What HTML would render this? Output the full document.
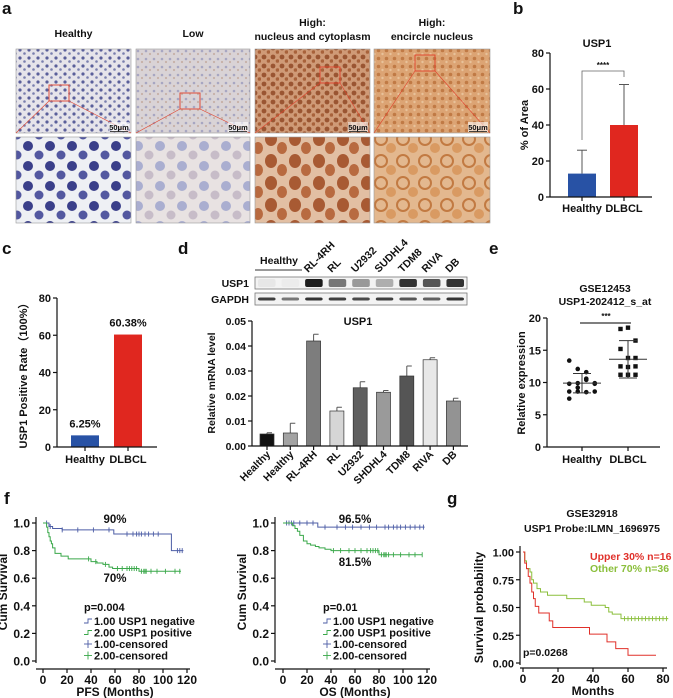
<!DOCTYPE html>
<html><head><meta charset="utf-8">
<style>
html,body{margin:0;padding:0;background:#fff;}
svg{display:block;font-family:"Liberation Sans",sans-serif;}
text{font-weight:bold;fill:#111;}
</style></head>
<body>
<svg id="fig" width="673" height="698" viewBox="0 0 673 698" xmlns="http://www.w3.org/2000/svg">
<defs>
<pattern id="pH1" width="9" height="8" patternUnits="userSpaceOnUse"><rect width="9" height="8" fill="#e6e4ea"/><circle cx="2" cy="2" r="1.6" fill="#5a5f9a"/><circle cx="6.5" cy="5.5" r="1.3" fill="#7a7fae"/></pattern>
<pattern id="pL1" width="8" height="8" patternUnits="userSpaceOnUse"><rect width="8" height="8" fill="#d9d3d6"/><circle cx="2" cy="3" r="1.3" fill="#a7a6c2"/><circle cx="6" cy="6" r="1.1" fill="#c6b1a8"/></pattern>
<pattern id="pN1" width="9" height="9" patternUnits="userSpaceOnUse"><rect width="9" height="9" fill="#cf9a77"/><circle cx="3" cy="3" r="2.4" fill="#9a5532"/><circle cx="7.5" cy="7" r="1.8" fill="#a8623b"/></pattern>
<pattern id="pE1" width="8" height="8" patternUnits="userSpaceOnUse"><rect width="8" height="8" fill="#dca474"/><circle cx="2.5" cy="2.5" r="1.8" fill="#c07a45"/><circle cx="6.5" cy="6" r="1.2" fill="#e8c29a"/></pattern>
<pattern id="pH2" width="22" height="20" patternUnits="userSpaceOnUse"><rect width="22" height="20" fill="#eef0f4"/><circle cx="6" cy="6" r="5" fill="#3a3f8a"/><circle cx="17" cy="15" r="4.5" fill="#5358a0"/></pattern>
<pattern id="pL2" width="22" height="20" patternUnits="userSpaceOnUse"><rect width="22" height="20" fill="#e8e2e2"/><circle cx="6" cy="6" r="5" fill="#aaaed0"/><circle cx="17" cy="15" r="4.5" fill="#c7bcc8"/></pattern>
<pattern id="pN2" width="24" height="22" patternUnits="userSpaceOnUse"><rect width="24" height="22" fill="#e2bfa3"/><ellipse cx="7" cy="7" rx="6" ry="7" fill="#a85a33"/><ellipse cx="18" cy="16" rx="5" ry="6" fill="#b86a40"/></pattern>
<pattern id="pE2" width="22" height="22" patternUnits="userSpaceOnUse"><rect width="22" height="22" fill="#e3b88f"/><circle cx="7" cy="7" r="6" fill="none" stroke="#c27a42" stroke-width="2"/><circle cx="17" cy="16" r="5" fill="#d99a62"/></pattern>
</defs>
<g id="root"></g>
</svg>
<script>
// ---------- data ----------
const aTitles1=['Healthy','Low','High:','High:'];
const aTitles2=['','','nucleus and cytoplasm','encircle nucleus'];
const bCats=['Healthy','DLBCL'];
const bMeans=[13,40];
const bErrTop=[26,62.5];
const bTicks=[0,20,40,60,80];
const cCats=['Healthy','DLBCL'];
const cVals=[6.25,60.38];
const cLabels=['6.25%','60.38%'];
const cTicks=[0,20,40,60,80];
const dCats=['Healthy','Healthy','RL-4RH','RL','U2932','SHDHL4','TDM8','RIVA','DB'];
const dVals=[0.0048,0.0052,0.042,0.014,0.0233,0.0215,0.028,0.0345,0.018];
const dErrTop=[0.0053,0.0091,0.0447,0.0155,0.0257,0.0222,0.032,0.0353,0.0191];
const dTicks=[0,0.01,0.02,0.03,0.04,0.05];
const dTickLabels=['0.00','0.01','0.02','0.03','0.04','0.05'];
const blotLanes=['','','RL-4RH','RL','U2932','SUDHL4','TDM8','RIVA','DB'];
const blotUSP1=[0.05,0.03,0.95,0.55,0.4,0.3,0.85,0.7,0.85];
const blotGAPDH=[0.8,0.55,0.85,0.8,0.75,0.8,0.7,0.65,0.85];
const eCats=['Healthy','DLBCL'];
const eHealthy=[13.4,12.1,11.6,9.9,9.8,9.9,10.4,9.8,8.6,8.6,8.5,8.6,7.5,9.2,10.6];
const eDLBCL=[18.3,18.5,16.5,15.2,13.8,13.8,12.5,12.4,12.5,11.2,11.2,11.2];
const eMean=[9.9,13.6];
const eSD=[1.5,2.9];
const eTicks=[0,5,10,15,20];
const fTicksX=[0,20,40,60,80,100,120];
const fTicksY=[0,0.2,0.4,0.6,0.8,1.0];
const pfsNegT=[0,5,8,16,59,107,117];
const pfsNegS=[1,0.975,0.96,0.95,0.92,0.80,0.80];
const pfsNegCens=[3,6,16,29,42,55,70,75,78,80,82,85,88,92,96,112,114,116];
const pfsPosT=[0,3,4,5,6,7,8,10,15,21,40,45,50,55,58,80,115];
const pfsPosS=[1,0.97,0.93,0.90,0.87,0.85,0.82,0.78,0.76,0.74,0.72,0.71,0.70,0.68,0.67,0.65,0.65];
const pfsPosCens=[38,44,52,62,66,70,72,74,76,78,82,84,85,86,90,95,102,110,114];
const osNegT=[0,29,118];
const osNegS=[1,0.97,0.97];
const osNegCens=[3,5,7,9,14,20,25,35,45,52,58,65,72,78,85,88,92,95,98,102,106,110,114,117];
const osPosT=[0,8,10,12,14,17,20,23,27,30,35,40,80,116];
const osPosS=[1,0.98,0.96,0.94,0.91,0.87,0.85,0.84,0.83,0.82,0.81,0.80,0.77,0.77];
const osPosCens=[42,48,55,60,65,70,73,75,77,79,82,84,85,86,88,92,98,105,110,116];
const gTicksX=[0,20,40,60,80];
const gTicksY=[0,0.25,0.5,0.75,1.0];
const gTickLabelsY=['0.00','0.25','0.50','0.75','1.00'];
const gRedT=[0,1,2,3,4,5,6,7,9,15,17,38,48,53,60,76];
const gRedS=[1,0.9,0.85,0.78,0.72,0.64,0.58,0.51,0.45,0.38,0.32,0.26,0.19,0.13,0.07,0.07];
const gGrnT=[0,1,2,4,5,6,8,10,14,25,35,39,47,49,51,56,83];
const gGrnS=[1,0.92,0.85,0.82,0.75,0.72,0.67,0.64,0.61,0.58,0.55,0.52,0.50,0.46,0.44,0.40,0.40];
const gGrnCens=[58,60,62,64,66,68,70,72,74,76,78,80,82];

// ---------- helpers ----------
const NS='http://www.w3.org/2000/svg';
const root=document.getElementById('root');
function mk(tag,attrs,parent){const e=document.createElementNS(NS,tag);for(const k in attrs)e.setAttribute(k,attrs[k]);(parent||root).appendChild(e);return e;}
function txt(x,y,s,size,anchor,parent,extra){const t=mk('text',Object.assign({x:x,y:y,'font-size':size,'text-anchor':anchor||'middle'},extra||{}),parent);t.textContent=s;return t;}
function grp(){return mk('g',{});}

// panel letters
[['a',2,14],['b',513,14],['c',2,254],['d',178,254],['e',489,254],['f',4,504],['g',447,504]].forEach(p=>{
  const t=txt(p[1],p[2],p[0],17,'start');
  
  
});

// ---------- panel a ----------
(function(){
  const g=grp();
  
  
  const xs=[[16,131],[136,250],[255,370],[374,490]];
  const top=['pH1','pL1','pN1','pE1'],bot=['pH2','pL2','pN2','pE2'];
  const boxes=[[49,85],[180,93],[320,67],[415,55]];
  xs.forEach((r,i)=>{
    const cx=(r[0]+r[1])/2;
    const t1=txt(cx,aTitles2[i]?26:37,aTitles1[i],10.5,'middle',g);
    
    
    if(aTitles2[i]){const t2=txt(cx,40,aTitles2[i],10.5,'middle',g);
      
      }
    const im=mk('rect',{x:r[0],y:49,width:r[1]-r[0],height:84,fill:'url(#'+top[i]+')',stroke:'#999','stroke-width':0.6},g);
    
    
    const im2=mk('rect',{x:r[0],y:137,width:r[1]-r[0],height:86,fill:'url(#'+bot[i]+')',stroke:'#999','stroke-width':0.6},g);
    
    
    const b=boxes[i];
    const bx=mk('rect',{x:b[0],y:b[1],width:20,height:16,fill:'none',stroke:'#e0402a','stroke-width':0.9},g);
    
    
    mk('line',{x1:b[0],y1:b[1]+16,x2:r[0],y2:133,stroke:'#e0402a','stroke-width':0.6},g);
    mk('line',{x1:b[0]+20,y1:b[1]+16,x2:r[1],y2:133,stroke:'#e0402a','stroke-width':0.6},g);
    mk('rect',{x:r[1]-22,y:122,width:20,height:10,fill:'#fff',opacity:0.6},g);
    const sb=txt(r[1]-12,130,'50μm',7.5,'middle',g,{'font-weight':'normal'});
    
    
    mk('line',{x1:r[1]-21,y1:131.5,x2:r[1]-3,y2:131.5,stroke:'#111','stroke-width':0.8},g);
  });
})();

// ---------- generic bar axis ----------
function yAxis(g,x,y0,y1,ticks,labels,vmax,size){
  mk('line',{x1:x,y1:y0,x2:x,y2:y1,stroke:'#111','stroke-width':1.2},g);
  ticks.forEach((v,i)=>{const y=y0-(y0-y1)*v/vmax;
    mk('line',{x1:x-4,y1:y,x2:x,y2:y,stroke:'#111','stroke-width':1.2},g);
    const t=txt(x-6,y+4,labels?labels[i]:String(v),size||11,'end',g);
    
    });
}

// ---------- panel b ----------
(function(){
  const g=grp();
  
  
  const x0=550,y0=197,y1=53,vmax=80,xe=652;
  const sy=v=>y0-(y0-y1)*v/vmax;
  const cx=[582,624],cols=['#2852a5','#e0271f'];
  const tt=txt(597,47,'USP1',11,'middle',g);
  
  
  bCats.forEach((c,i)=>{
    mk('line',{x1:cx[i],y1:sy(bMeans[i]),x2:cx[i],y2:sy(bErrTop[i]),stroke:'#555','stroke-width':1},g);
    mk('line',{x1:cx[i]-5,y1:sy(bErrTop[i]),x2:cx[i]+5,y2:sy(bErrTop[i]),stroke:'#555','stroke-width':1},g);
    const r=mk('rect',{x:cx[i]-14,y:sy(bMeans[i]),width:28,height:y0-sy(bMeans[i]),fill:cols[i]},g);
    
    
    mk('line',{x1:cx[i],y1:y0,x2:cx[i],y2:y0+4,stroke:'#111','stroke-width':1.2},g);
    const l=txt(cx[i],212,c,11,'middle',g);
    
    
  });
  mk('line',{x1:x0,y1:y0,x2:xe,y2:y0,stroke:'#111','stroke-width':1.2},g);
  yAxis(g,x0,y0,y1,bTicks,null,vmax,11);
  mk('polyline',{points:`${cx[0]},140 ${cx[0]},71 ${cx[1]},71 ${cx[1]},77`,fill:'none',stroke:'#666','stroke-width':0.8},g);
  const s=txt(603,68,'****',8,'middle',g);
  
  
  const yl=txt(0,0,'% of Area',11,'middle',g,{transform:'translate(528,125) rotate(-90)'});
  
  
})();

// ---------- panel c ----------
(function(){
  const g=grp();
  
  
  const x0=57,y0=447,y1=298,vmax=80,xe=157;
  const sy=v=>y0-(y0-y1)*v/vmax;
  const cx=[85,128],cols=['#2852a5','#e0271f'];
  cCats.forEach((c,i)=>{
    const r=mk('rect',{x:cx[i]-14,y:sy(cVals[i]),width:28,height:y0-sy(cVals[i]),fill:cols[i]},g);
    
    
    const v=txt(cx[i],sy(cVals[i])-8,cLabels[i],11,'middle',g);
    
    
    mk('line',{x1:cx[i],y1:y0,x2:cx[i],y2:y0+4,stroke:'#111','stroke-width':1.2},g);
    const l=txt(cx[i],463,c,11,'middle',g);
    
    
  });
  mk('line',{x1:x0,y1:y0,x2:xe,y2:y0,stroke:'#111','stroke-width':1.2},g);
  yAxis(g,x0,y0,y1,cTicks,null,vmax,11);
  const yl=txt(0,0,'USP1 Positive Rate（100%）',11,'middle',g,{transform:'translate(27,373) rotate(-90)'});
  
  
})();

// ---------- panel d ----------
(function(){
  const g=grp();
  
  
  const bx0=255,bx1=467,lw=(bx1-bx0)/blotLanes.length;
  [['USP1',277,blotUSP1,8],['GAPDH',293,blotGAPDH,3]].forEach(r=>{
    const f=mk('rect',{x:bx0,y:r[1],width:bx1-bx0,height:12,fill:'#f3f3f3',stroke:'#777','stroke-width':0.8},g);
    
    
    const l=txt(249,r[1]+10,r[0],10.5,'end',g);
    
    
    r[2].forEach((d,i)=>{
      const b=mk('rect',{x:bx0+i*lw+3,y:r[1]+6-r[3]/2,width:lw-6,height:r[3],rx:2,fill:'#111','fill-opacity':d},g);
      
      
    });
  });
  const hl=txt(279,264,'Healthy',10.5,'middle',g);
  
  
  mk('line',{x1:255,y1:270,x2:302,y2:270,stroke:'#333','stroke-width':0.9},g);
  blotLanes.forEach((s,i)=>{ if(!s)return;
    const t=txt(0,0,s,10.5,'start',g,{transform:`translate(${bx0+i*lw+6},273) rotate(-45)`});
    
    });
  const x0=252,y0=446,y1=321,vmax=0.05,xe=468;
  const sy=v=>y0-(y0-y1)*v/vmax;
  const sx=i=>267+i*23.3;
  const cols=['#111','#a3a3a3','#7d7d7d','#d6d6d6','#5f5f5f','#9a9a9a','#555','#e8e8e8','#939393'];
  const tt=txt(358,325,'USP1',11,'middle',g);
  
  
  dCats.forEach((c,i)=>{
    const x=sx(i);
    mk('line',{x1:x,y1:sy(dVals[i]),x2:x,y2:sy(dErrTop[i]),stroke:'#555','stroke-width':1},g);
    mk('line',{x1:x,y1:sy(dErrTop[i]),x2:x+5,y2:sy(dErrTop[i]),stroke:'#555','stroke-width':1},g);
    const r=mk('rect',{x:x-7,y:sy(dVals[i]),width:14,height:y0-sy(dVals[i]),fill:cols[i],stroke:'#333','stroke-width':0.7},g);
    
    
    mk('line',{x1:x,y1:y0,x2:x,y2:y0+4,stroke:'#111','stroke-width':1.2},g);
    const l=txt(0,0,c,10.5,'end',g,{transform:`translate(${x+4},455) rotate(-45)`});
    
    
  });
  mk('line',{x1:x0,y1:y0,x2:xe,y2:y0,stroke:'#111','stroke-width':1.2},g);
  yAxis(g,x0,y0,y1,dTicks,dTickLabels,vmax,10.5);
  const yl=txt(0,0,'Relative mRNA level',10.5,'middle',g,{transform:'translate(215,383) rotate(-90)'});
  
  
})();

// ---------- panel e ----------
(function(){
  const g=grp();
  
  
  const x0=547,y0=447,y1=318,vmax=20,xe=660;
  const sy=v=>y0-(y0-y1)*v/vmax;
  const cx=[582,628];
  const t1=txt(605,292,'GSE12453',10.5,'middle',g);
  
  
  const t2=txt(605,305,'USP1-202412_s_at',10.5,'middle',g);
  
  
  [eHealthy,eDLBCL].forEach((arr,k)=>{
    arr.forEach((v,i)=>{
      const off=k===0?((i%4)-1.5)*8.5:((i%3)-1)*7.5;
      const p=k===0?mk('circle',{cx:cx[k]+off,cy:sy(v),r:2.3,fill:'#111'},g):
        mk('rect',{x:cx[k]+off-2.2,y:sy(v)-2.2,width:4.4,height:4.4,fill:'#111'},g);
      
      
    });
    mk('line',{x1:cx[k]-19,y1:sy(eMean[k]),x2:cx[k]+19,y2:sy(eMean[k]),stroke:'#333','stroke-width':1},g);
    mk('line',{x1:cx[k],y1:sy(eMean[k]-eSD[k]),x2:cx[k],y2:sy(eMean[k]+eSD[k]),stroke:'#333','stroke-width':1},g);
    [eMean[k]-eSD[k],eMean[k]+eSD[k]].forEach(v=>mk('line',{x1:cx[k]-9,y1:sy(v),x2:cx[k]+9,y2:sy(v),stroke:'#333','stroke-width':1},g));
    mk('line',{x1:cx[k],y1:y0,x2:cx[k],y2:y0+4,stroke:'#111','stroke-width':1.2},g);
    const l=txt(cx[k],463,eCats[k],11,'middle',g);
    
    
  });
  mk('line',{x1:x0,y1:y0,x2:xe,y2:y0,stroke:'#111','stroke-width':1.2},g);
  yAxis(g,x0,y0,y1,eTicks,null,vmax,11);
  mk('line',{x1:580,y1:323,x2:631,y2:323,stroke:'#333','stroke-width':1.2},g);
  const s=txt(606,319,'***',8,'middle',g);
  
  
  const yl=txt(0,0,'Relative expression',11,'middle',g,{transform:'translate(525,383) rotate(-90)'});
  
  
})();

// ---------- KM helpers ----------
function survAt(T,S,t){let s=S[0];for(let i=0;i<T.length;i++){if(T[i]<=t)s=S[i];}return s;}
function stepPath(T,S,sx,sy){let d=`M${sx(T[0])},${sy(S[0])}`;for(let i=1;i<T.length;i++){d+=` H${sx(T[i])} V${sy(S[i])}`;}return d;}
function kmPlot(o){
  const g=grp();
  
  
  const sx=t=>o.xz+(o.xm-o.xz)*t/o.tmax, sy=s=>o.y0-(o.y0-o.y1)*s;
  mk('line',{x1:o.ax,y1:o.y1-6,x2:o.ax,y2:o.y0+2,stroke:'#111','stroke-width':1.2},g);
  o.ticksY.forEach((v,i)=>{mk('line',{x1:o.ax-4,y1:sy(v),x2:o.ax,y2:sy(v),stroke:'#111','stroke-width':1.2},g);
    const t=txt(o.ax-6,sy(v)+4.5,o.labY[i],o.tickSize||12,'end',g);
    
    });
  mk('line',{x1:o.ax,y1:o.xy,x2:o.xe,y2:o.xy,stroke:'#111','stroke-width':1.2},g);
  o.ticksX.forEach(v=>{mk('line',{x1:sx(v),y1:o.xy,x2:sx(v),y2:o.xy+4,stroke:'#111','stroke-width':1.2},g);
    const t=txt(sx(v),o.xy+15,String(v),12,'middle',g);
    
    });
  const xt=txt((o.xz+o.xm)/2,o.xy+27,o.xlabel,12,'middle',g);
  
  
  const yt=txt(0,0,o.ylabel,12,'middle',g,{transform:`translate(${o.ax-(o.ylOff||29)},${(o.y0+o.y1)/2}) rotate(-90)`,'font-weight':'normal'});
  
  
  o.series.forEach(se=>{
    const p=mk('path',{d:stepPath(se.T,se.S,sx,sy),fill:'none',stroke:se.color,'stroke-width':1},g);
    
    
    (se.cens||[]).forEach(t=>{const x=sx(t),y=sy(survAt(se.T,se.S,t));
      const c=mk('line',{x1:x,y1:y-2.5,x2:x,y2:y+2.5,stroke:se.color,'stroke-width':0.9},g);
      
      });
  });
  return {g,sx,sy};
}
const yLab=['0.0','0.2','0.4','0.6','0.8','1.0'];
const BL='#4d5ea6',GR='#3aa84a';
function fLegend(g,x,p){
  const t=txt(x,611,p,11,'start',g);
  
  
  [['1.00 USP1 negative',BL,'step'],['2.00 USP1 positive',GR,'step'],['1.00-censored',BL,'plus'],['2.00-censored',GR,'plus']].forEach((r,i)=>{
    const y=624+i*11.5;
    if(r[2]==='step')mk('path',{d:`M${x},${y-1} H${x+4} V${y-5} H${x+8}`,fill:'none',stroke:r[1],'stroke-width':0.9},g);
    else{mk('line',{x1:x,y1:y-3,x2:x+8,y2:y-3,stroke:r[1],'stroke-width':0.9},g);mk('line',{x1:x+4,y1:y-7,x2:x+4,y2:y+1,stroke:r[1],'stroke-width':0.9},g);}
    const l=txt(x+10,y+1,r[0],11,'start',g);
    
    
  });
}
// ---------- panel f ----------
(function(){
  const a=kmPlot({name:'panel-f-pfs',ax:36,xz:43,xm:187,tmax:120,y0:661,y1:523,xy:669,xe:190,ticksX:fTicksX,ticksY:fTicksY,labY:yLab,xlabel:'PFS (Months)',ylabel:'Cum Survival',
    series:[{T:pfsNegT,S:pfsNegS,cens:pfsNegCens,color:BL,name:'line-pfs-negative'},{T:pfsPosT,S:pfsPosS,cens:pfsPosCens,color:GR,name:'line-pfs-positive'}]});
  let t=txt(115,523,'90%',11.5,'middle',a.g);
  
  
  t=txt(115,582,'70%',11.5,'middle',a.g);
  
  
  fLegend(a.g,84,'p=0.004');
  const b=kmPlot({name:'panel-f-os',ax:275,xz:283,xm:427,tmax:120,y0:661,y1:523,xy:669,xe:430,ticksX:fTicksX,ticksY:fTicksY,labY:yLab,xlabel:'OS (Months)',ylabel:'Cum Survival',
    series:[{T:osNegT,S:osNegS,cens:osNegCens,color:BL,name:'line-os-negative'},{T:osPosT,S:osPosS,cens:osPosCens,color:GR,name:'line-os-positive'}]});
  t=txt(355,523,'96.5%',11.5,'middle',b.g);
  
  
  t=txt(355,566,'81.5%',11.5,'middle',b.g);
  
  
  fLegend(b.g,323,'p=0.01');
})();
// ---------- panel g ----------
(function(){
  const a=kmPlot({name:'panel-g-km',ax:520,xz:523,xm:663,tmax:80,y0:663,y1:552,xy:668,xe:667,ticksX:gTicksX,ticksY:gTicksY,labY:gTickLabelsY,tickSize:11,ylOff:37,xlabel:'Months',ylabel:'Survival probability',
    series:[{T:gGrnT,S:gGrnS,cens:gGrnCens,color:'#8bbf3c',name:'line-other-70'},{T:gRedT,S:gRedS,cens:[],color:'#e0302a',name:'line-upper-30'}]});
  let t=txt(592,517,'GSE32918',10.5,'middle',a.g);
  
  
  t=txt(592,532,'USP1 Probe:ILMN_1696975',10.5,'middle',a.g);
  
  
  t=txt(590,560,'Upper 30% n=16',10.5,'start',a.g,{style:'fill:#e0302a'});
  
  
  t=txt(590,572,'Other  70% n=36',10.5,'start',a.g,{style:'fill:#8bbf3c'});
  
  
  t=txt(523,656,'p=0.0268',10.5,'start',a.g);
  
  
})();
</script>
</body></html>
